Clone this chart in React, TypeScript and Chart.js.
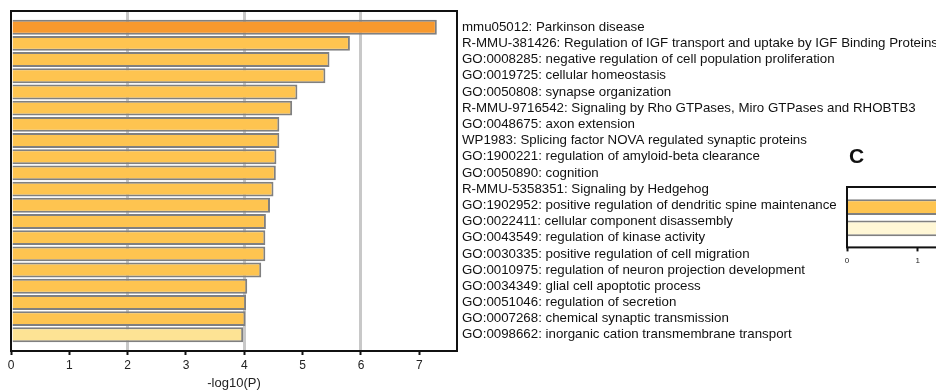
import React, { useEffect, useRef } from 'react';
import { Chart, registerables } from 'chart.js';

Chart.register(...registerables);

// ---- data ----
const categories: string[] = [
  'mmu05012: Parkinson disease',
  'R-MMU-381426: Regulation of IGF transport and uptake by IGF Binding Proteins',
  'GO:0008285: negative regulation of cell population proliferation',
  'GO:0019725: cellular homeostasis',
  'GO:0050808: synapse organization',
  'R-MMU-9716542: Signaling by Rho GTPases, Miro GTPases and RHOBTB3',
  'GO:0048675: axon extension',
  'WP1983: Splicing factor NOVA regulated synaptic proteins',
  'GO:1900221: regulation of amyloid-beta clearance',
  'GO:0050890: cognition',
  'R-MMU-5358351: Signaling by Hedgehog',
  'GO:1902952: positive regulation of dendritic spine maintenance',
  'GO:0022411: cellular component disassembly',
  'GO:0043549: regulation of kinase activity',
  'GO:0030335: positive regulation of cell migration',
  'GO:0010975: regulation of neuron projection development',
  'GO:0034349: glial cell apoptotic process',
  'GO:0051046: regulation of secretion',
  'GO:0007268: chemical synaptic transmission',
  'GO:0098662: inorganic cation transmembrane transport',
];

const negLog10P: number[] = [
  7.3, 5.81, 5.46, 5.39, 4.91, 4.82, 4.6, 4.6, 4.55, 4.54,
  4.5, 4.44, 4.37, 4.36, 4.36, 4.29, 4.05, 4.03, 4.02, 3.98,
];

const xTickValues: number[] = [0, 1, 2, 3, 4, 5, 6, 7];
const gridValues: number[] = [2, 4, 6];
const xAxisTitle = '-log10(P)';

const panelCLetter = 'C';
const panelCValues: number[] = [3.4, 2.6];
const panelCTicks: number[] = [0, 1, 2, 3, 4, 5];

// ---- styles ----
const barColors: string[] = negLog10P.map((_, i) =>
  i === 0 ? '#F7992E' : i === negLog10P.length - 1 ? '#FDE394' : '#FEC450'
);
const panelCColors: string[] = ['#FEC450', '#FFF7D6'];
const FONT = '"Liberation Sans", Arial, sans-serif';

const framePlugin = {
  id: 'frame',
  afterDatasetsDraw(chart: any) {
    const { ctx, chartArea } = chart;
    const { left, top, right, bottom } = chartArea;
    ctx.save();
    ctx.strokeStyle = '#111111';
    ctx.lineWidth = 2;
    ctx.strokeRect(left, top, right - left, bottom - top);
    ctx.restore();
  },
};

function MainChart() {
  const ref = useRef<HTMLCanvasElement | null>(null);
  useEffect(() => {
    if (!ref.current) return;
    const chart = new Chart(ref.current, {
      type: 'bar',
      data: {
        datasets: [
          {
            data: negLog10P.map((v, i) => ({ x: v, y: i })),
            backgroundColor: barColors,
            borderColor: '#808080',
            borderWidth: 2,
            borderSkipped: 'start',
            barPercentage: 0.92,
            categoryPercentage: 1,
          },
        ],
      },
      options: {
        indexAxis: 'y',
        animation: false,
        responsive: false,
        devicePixelRatio: 1,
        layout: { padding: { left: 11, top: 11, right: 0, bottom: 0 } },
        plugins: { legend: { display: false }, tooltip: { enabled: false } },
        scales: {
          x: {
            type: 'linear',
            min: 0,
            max: 7.646,
            afterBuildTicks: (scale: any) => {
              scale.ticks = xTickValues.map((v) => ({ value: v }));
            },
            ticks: {
              includeBounds: false,
              autoSkip: false,
              maxRotation: 0,
              padding: 3,
              color: '#222222',
              font: { family: FONT, size: 12 },
            },
            grid: {
              color: (c: any) =>
                c.tick && gridValues.includes(c.tick.value) ? '#C8C8C8' : 'rgba(0,0,0,0)',
              lineWidth: 3,
              drawTicks: true,
              tickLength: 4,
              tickColor: '#111111',
              tickWidth: 2,
            },
            border: { display: false },
            title: {
              display: true,
              text: xAxisTitle,
              color: '#222222',
              font: { family: FONT, size: 13 },
              padding: { top: 0, bottom: 0 },
            },
          },
          y: {
            type: 'linear',
            position: 'right',
            reverse: true,
            offset: false,
            min: -1,
            max: categories.length,
            afterFit: (scale: any) => {
              scale.width = 479;
              scale.paddingTop = 0;
              scale.paddingBottom = 0;
            },
            ticks: {
              stepSize: 1,
              autoSkip: false,
              padding: 5,
              color: '#111111',
              font: { family: FONT, size: 13.3 },
              callback: (v: any) => categories[v as number] ?? '',
            },
            grid: { display: false, drawTicks: false },
            border: { display: false },
          },
        },
      },
      plugins: [framePlugin],
    } as any);
    return () => chart.destroy();
  }, []);
  return (
    <canvas
      ref={ref}
      width={936}
      height={391}
      style={{ position: 'absolute', left: 0, top: 0, width: 936, height: 391, display: 'block' }}
    />
  );
}

function PanelC() {
  const ref = useRef<HTMLCanvasElement | null>(null);
  useEffect(() => {
    if (!ref.current) return;
    const chart = new Chart(ref.current, {
      type: 'bar',
      data: {
        datasets: [
          {
            data: panelCValues.map((v, i) => ({ x: v, y: i })),
            backgroundColor: panelCColors,
            borderColor: '#808080',
            borderWidth: 2,
            borderSkipped: 'start',
            barPercentage: 0.83,
            categoryPercentage: 1,
          },
        ],
      },
      options: {
        indexAxis: 'y',
        animation: false,
        responsive: false,
        devicePixelRatio: 1,
        layout: { padding: { left: 12, top: 7, right: 8, bottom: 0 } },
        plugins: { legend: { display: false }, tooltip: { enabled: false } },
        scales: {
          x: {
            type: 'linear',
            min: 0,
            max: 5.66,
            afterBuildTicks: (scale: any) => {
              scale.ticks = panelCTicks.map((v) => ({ value: v }));
            },
            ticks: {
              includeBounds: false,
              autoSkip: false,
              maxRotation: 0,
              padding: 5,
              color: '#222222',
              font: { family: FONT, size: 8 },
            },
            grid: {
              color: 'rgba(0,0,0,0)',
              drawTicks: true,
              tickLength: 4,
              tickColor: '#111111',
              tickWidth: 2,
            },
            border: { display: false },
          },
          y: {
            type: 'linear',
            display: false,
            offset: false,
            reverse: true,
            min: -0.95,
            max: 1.9,
          },
        },
      },
      plugins: [framePlugin],
    } as any);
    return () => chart.destroy();
  }, []);
  return (
    <canvas
      ref={ref}
      width={420}
      height={91}
      style={{ position: 'absolute', left: 835, top: 180, width: 420, height: 91, display: 'block' }}
    />
  );
}

export default function App() {
  return (
    <div
      style={{
        position: 'absolute',
        left: 0,
        top: 0,
        width: 936,
        height: 391,
        overflow: 'hidden',
        background: '#ffffff',
      }}
    >
      <MainChart />
      <PanelC />
      <div
        style={{
          position: 'absolute',
          left: 849,
          top: 145,
          fontFamily: FONT,
          fontWeight: 'bold',
          fontSize: 21,
          lineHeight: '21px',
          color: '#111111',
        }}
      >
        {panelCLetter}
      </div>
    </div>
  );
}
